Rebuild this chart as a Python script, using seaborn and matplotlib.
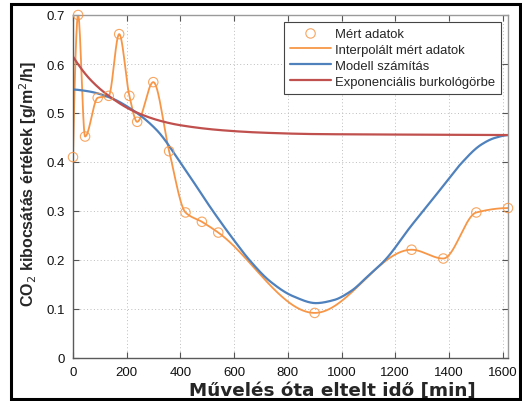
import numpy as np
import pandas as pd
import matplotlib
matplotlib.use("Agg")
import matplotlib.pyplot as plt
from matplotlib.patches import Rectangle
import seaborn as sns

# Measured CO2 emission values
meas_t = [0, 19, 45, 92, 133, 172, 210, 239, 299, 358, 419, 480, 541,
          900, 1261, 1379, 1502, 1620]
meas_v = [0.41, 0.70, 0.452, 0.531, 0.535, 0.661, 0.535, 0.482, 0.563,
          0.422, 0.297, 0.278, 0.256, 0.092, 0.221, 0.203, 0.297, 0.306]

# Model calculation, sampled along time
model_t = [0, 60, 140, 225, 312, 400, 521, 600, 657, 735, 820, 905, 970,
           1034, 1100, 1164, 1257, 1345, 1394, 1444, 1519, 1570, 1620]
model_v = [0.548, 0.544, 0.531, 0.505, 0.465, 0.399, 0.300, 0.240, 0.200,
           0.156, 0.126, 0.112, 0.118, 0.136, 0.168, 0.201, 0.268, 0.328,
           0.362, 0.396, 0.435, 0.449, 0.455]

# Exponential envelope, sampled along time
env_t = [0, 63, 138, 225, 325, 400, 550, 700, 900, 1200, 1620]
env_v = [0.615, 0.569, 0.533, 0.504, 0.484, 0.475, 0.465, 0.460, 0.457,
         0.456, 0.455]

x_ticks = [0, 200, 400, 600, 800, 1000, 1200, 1400, 1600]
y_ticks = [0, 0.1, 0.2, 0.3, 0.4, 0.5, 0.6, 0.7]
y_ticklabels = ["0", "0.1", "0.2", "0.3", "0.4", "0.5", "0.6", "0.7"]

ORANGE = "#F79646"
BLUE = "#4F81BD"
RED = "#C0504D"


def pchip(x, y, xs):
    """Shape-preserving piecewise cubic Hermite interpolation."""
    x = np.asarray(x, float)
    y = np.asarray(y, float)
    h = np.diff(x)
    d = np.diff(y) / h
    n = len(x)
    m = np.zeros(n)
    for k in range(1, n - 1):
        if d[k - 1] * d[k] <= 0:
            m[k] = 0.0
        else:
            w1 = 2 * h[k] + h[k - 1]
            w2 = h[k] + 2 * h[k - 1]
            m[k] = (w1 + w2) / (w1 / d[k - 1] + w2 / d[k])

    def edge(h0, h1, d0, d1):
        s = ((2 * h0 + h1) * d0 - h0 * d1) / (h0 + h1)
        if np.sign(s) != np.sign(d0):
            s = 0.0
        elif np.sign(d0) != np.sign(d1) and abs(s) > abs(3 * d0):
            s = 3 * d0
        return s

    m[0] = edge(h[0], h[1], d[0], d[1])
    m[-1] = edge(h[-1], h[-2], d[-1], d[-2])
    xs = np.asarray(xs, float)
    idx = np.clip(np.searchsorted(x, xs) - 1, 0, n - 2)
    t = (xs - x[idx]) / h[idx]
    h00 = 2 * t**3 - 3 * t**2 + 1
    h10 = t**3 - 2 * t**2 + t
    h01 = -2 * t**3 + 3 * t**2
    h11 = t**3 - t**2
    return (h00 * y[idx] + h10 * h[idx] * m[idx]
            + h01 * y[idx + 1] + h11 * h[idx] * m[idx + 1])


sns.set_theme(style="white")
plt.rcParams["font.family"] = ["Liberation Sans", "DejaVu Sans"]

W, H = 522, 402
fig = plt.figure(figsize=(W / 100, H / 100), dpi=100)
ax = fig.add_axes([73 / W, 1 - 359 / H, 435 / W, 343 / H])

grid_t = np.linspace(0, 1620, 1200)
meas_df = pd.DataFrame({"t": meas_t, "v": meas_v})
interp_df = pd.DataFrame({"t": grid_t, "v": pchip(meas_t, meas_v, grid_t)})
model_df = pd.DataFrame({"t": grid_t, "v": pchip(model_t, model_v, grid_t)})
env_df = pd.DataFrame({"t": grid_t, "v": pchip(env_t, env_v, grid_t)})

ax.scatter(meas_df["t"], meas_df["v"], s=46, facecolors="none",
           edgecolors=ORANGE, linewidths=0.8, zorder=5, clip_on=False,
           label="Mért adatok", alpha=0.85)
sns.lineplot(data=interp_df, x="t", y="v", ax=ax, color=ORANGE, lw=1.3,
             label="Interpolált mért adatok", sort=False, estimator=None)
sns.lineplot(data=model_df, x="t", y="v", ax=ax, color=BLUE, lw=1.6,
             label="Modell számítás", sort=False, estimator=None)
sns.lineplot(data=env_df, x="t", y="v", ax=ax, color=RED, lw=1.6,
             label="Exponenciális burkológörbe", sort=False, estimator=None)

ax.set_xlim(0, 1620)
ax.set_ylim(0, 0.7)
ax.set_xticks(x_ticks)
ax.set_xticklabels([str(v) for v in x_ticks])
ax.set_yticks(y_ticks)
ax.set_yticklabels(y_ticklabels)
ax.tick_params(direction="in", length=4, width=0.8, color="#555555",
               labelsize=9.5, labelcolor="#111111", top=True, right=True,
               bottom=True, left=True)
ax.tick_params(axis="x", pad=6)
ax.tick_params(axis="y", pad=6)
ax.grid(True, linestyle=(0, (1, 2.5)), color="#bdbdbd", lw=0.7)
for side, sp in ax.spines.items():
    sp.set_visible(True)
    sp.set_color("#5a5a5a" if side in ("left", "bottom") else "#9a9a9a")
    sp.set_linewidth(1.0)

ax.set_xlabel("Művelés óta eltelt idő [min]", fontsize=13.2,
              fontweight="bold", family=["DejaVu Sans"])
ax.xaxis.label.set_va("baseline")
ax.xaxis.set_label_coords((332.5 - 73) / 435, -(396 - 359) / 343)

ax.set_ylabel(r"CO$_2$ kibocsátás értékek [g/m$^2$/h]", fontsize=11.5,
              fontweight="bold")
ax.yaxis.label.set_va("center")
ax.yaxis.set_label_coords(-(73 - 28) / 435, (359 - 183.5) / 343)

handles, labels = ax.get_legend_handles_labels()
leg = ax.legend(handles, labels, loc="upper right",
                bbox_to_anchor=(0.984, 0.980), borderaxespad=0,
                fontsize=9.4, frameon=True, fancybox=False, framealpha=1,
                edgecolor="#444444", handlelength=3.15, handletextpad=0.3,
                labelspacing=0.3, borderpad=0.45)
leg.get_frame().set_linewidth(0.8)

fig.patches.append(Rectangle((11 / W, 2 / H), 509 / W, 395 / H,
                             transform=fig.transFigure, fill=False,
                             edgecolor="black", lw=2.2, zorder=10))

fig.savefig("out.png", dpi=100, facecolor="white")
